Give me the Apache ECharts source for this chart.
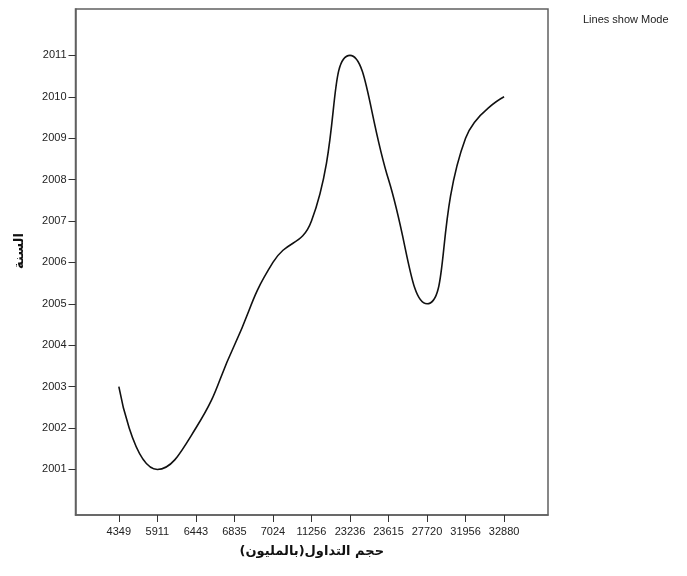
<!DOCTYPE html>
<html>
<head>
<meta charset="utf-8">
<script src="https://cdn.jsdelivr.net/npm/echarts@6/dist/echarts.min.js"></script>
<style>html,body{margin:0;padding:0;background:#fff}#c{width:687px;height:576px}</style>
</head>
<body>
<div id="c"></div>
<script>
const categories = ['4349','5911','6443','6835','7024','11256','23236','23615','27720','31956','32880'];
const years = [2003, 2001, 2002, 2004, 2006, 2007, 2011, 2008, 2005, 2009, 2010];
const yTicks = [2001, 2002, 2003, 2004, 2005, 2006, 2007, 2008, 2009, 2010, 2011];
const xTitle = 'حجم التداول(بالمليون)';
const yTitle = 'السنة';
const noteText = 'Lines show Mode';

const chart = echarts.init(document.getElementById('c'), null, {renderer: 'canvas'});
const xIdx = categories.map((_, i) => i);
chart.setOption({
  animation: false,
  backgroundColor: '#fff',
  textStyle: {fontFamily: 'Liberation Sans, Arial, sans-serif'},
  graphic: [{
    type: 'text', left: 583, top: 14,
    style: {text: noteText, fontSize: 11, fill: '#222', fontFamily: 'Liberation Sans, Arial, sans-serif'}
  }, {
    type: 'text', x: 20, y: 251, rotation: Math.PI / 2,
    style: {text: yTitle, fontSize: 13, fontWeight: 'bold', fill: '#111', fontFamily: 'DejaVu Sans',
            align: 'center', verticalAlign: 'middle'}
  }],
  grid: {left: 75.5, right: 139, top: 9, bottom: 61, show: true, borderColor: '#606060', borderWidth: 1.5,
         containLabel: false, outerBoundsMode: 'none'},
  xAxis: {
    type: 'value', min: -1.125, max: 11.14,
    name: xTitle, nameLocation: 'middle', nameGap: 30,
    nameTextStyle: {fontFamily: 'DejaVu Sans', fontWeight: 'bold', fontSize: 13, color: '#111'},
    axisLine: {show: true, onZero: false, lineStyle: {color: '#606060', width: 1.5}},
    axisTick: {show: true, customValues: xIdx, length: 7, lineStyle: {color: '#333'}},
    axisLabel: {customValues: xIdx, formatter: v => categories[Math.round(v)], fontSize: 11, color: '#222', margin: 11},
    splitLine: {show: false}
  },
  yAxis: {
    type: 'value', min: 1999.9, max: 2012.12,
    axisLine: {show: true, onZero: false, lineStyle: {color: '#606060', width: 1.5}},
    axisTick: {show: true, customValues: yTicks, length: 7, lineStyle: {color: '#333'}},
    axisLabel: {customValues: yTicks, formatter: v => String(v), fontSize: 11, color: '#222', margin: 9},
    splitLine: {show: false}
  },
  series: [{
    type: 'line',
    data: years.map((y, i) => [i, y]),
    smooth: 0.5,
    showSymbol: false,
    lineStyle: {color: '#111', width: 1.6}
  }]
});
</script>
</body>
</html>
